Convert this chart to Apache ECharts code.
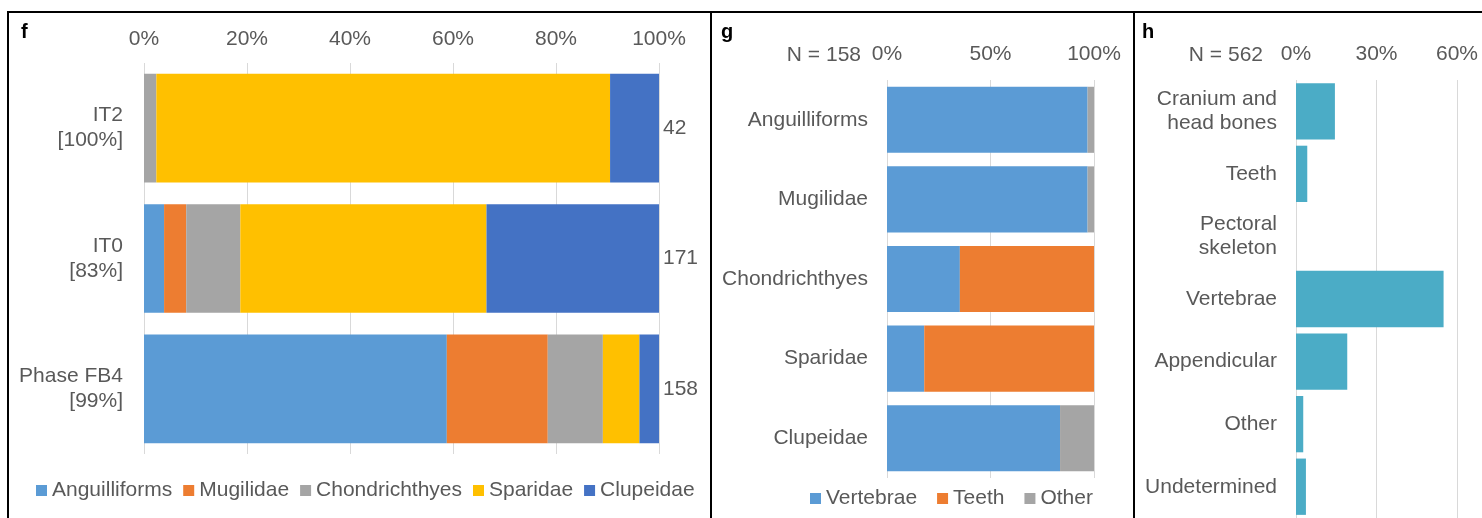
<!DOCTYPE html>
<html>
<head>
<meta charset="utf-8">
<style>
  html, body { margin: 0; padding: 0; background: #ffffff; }
  #chart { width: 1482px; height: 518px; }
</style>
<script src="https://cdn.jsdelivr.net/npm/echarts@6/dist/echarts.min.js"></script>
</head>
<body>
<div id="chart"></div>
<script>
// Panel f: taxonomic composition per context (% of identified specimens)
const fContexts = ['IT2\n[100%]', 'IT0\n[83%]', 'Phase FB4\n[99%]'];
const fCounts = ['42', '171', '158'];
const fTaxa = ['Anguilliforms', 'Mugilidae', 'Chondrichthyes', 'Sparidae', 'Clupeidae'];
const fAnguilliforms = [0, 3.9, 58.8];
const fMugilidae = [0, 4.3, 19.6];
const fChondrichthyes = [2.4, 10.5, 10.7];
const fSparidae = [88.1, 47.8, 7.1];
const fClupeidae = [9.5, 33.5, 3.8];
const fTicks = { min: 0, max: 100, interval: 20 };

// Panel g: skeletal elements per taxon, Phase FB4
const gTaxa = ['Anguilliforms', 'Mugilidae', 'Chondrichthyes', 'Sparidae', 'Clupeidae'];
const gParts = ['Vertebrae', 'Teeth', 'Other'];
const gVertebrae = [96.9, 96.9, 35.2, 18.0, 83.6];
const gTeeth = [0, 0, 64.8, 82.0, 0];
const gOther = [3.1, 3.1, 0, 0, 16.4];
const gN = 'N = 158';
const gTicks = { min: 0, max: 100, interval: 50 };

// Panel h: anatomical distribution of all remains
const hElements = ['Cranium and\nhead bones', 'Teeth', 'Pectoral\nskeleton', 'Vertebrae', 'Appendicular', 'Other', 'Undetermined'];
const hShare = [14.5, 4.2, 0, 55.0, 19.1, 2.7, 3.7];
const hN = 'N = 562';
const hTicks = { min: 0, max: 60, interval: 30 };

const TEXT = '#595959';
const GRIDLINE = '#D9D9D9';
const FONT = '"Liberation Sans", Arial, Helvetica, sans-serif';
const taxonColors = ['#5B9BD5', '#ED7D31', '#A5A5A5', '#FFC000', '#4472C4'];
const partColors = ['#5B9BD5', '#ED7D31', '#A5A5A5'];
const hColor = '#4BACC6';

function valueAxis(gridIndex, ticks, margin) {
  return {
    type: 'value', gridIndex, position: 'top',
    min: ticks.min, max: ticks.max, interval: ticks.interval,
    axisLine: { show: false }, axisTick: { show: false },
    axisLabel: { formatter: '{value}%', color: TEXT, fontSize: 21, fontFamily: FONT, margin },
    splitLine: { show: true, lineStyle: { color: GRIDLINE, width: 1 } }
  };
}
function categoryAxis(gridIndex, data, margin, lineHeight) {
  return {
    type: 'category', gridIndex, data, inverse: true,
    axisLine: { show: false }, axisTick: { show: false },
    axisLabel: { color: TEXT, fontSize: 21, fontFamily: FONT, margin, lineHeight, align: 'right' },
    splitLine: { show: false }
  };
}

const fSeriesData = [fAnguilliforms, fMugilidae, fChondrichthyes, fSparidae, fClupeidae];
const gSeriesData = [gVertebrae, gTeeth, gOther];

const series = [];
fTaxa.forEach((name, i) => series.push({
  name, type: 'bar', stack: 'f', xAxisIndex: 0, yAxisIndex: 0,
  barCategoryGap: '16.6%', data: fSeriesData[i],
  itemStyle: { color: taxonColors[i] }
}));
gParts.forEach((name, i) => series.push({
  name, type: 'bar', stack: 'g', xAxisIndex: 1, yAxisIndex: 2,
  barCategoryGap: '17%', data: gSeriesData[i],
  itemStyle: { color: partColors[i] }
}));
series.push({
  name: 'Share', type: 'bar', xAxisIndex: 2, yAxisIndex: 3,
  barCategoryGap: '10%', data: hShare,
  itemStyle: { color: hColor }
});

const option = {
  animation: false,
  backgroundColor: '#ffffff',
  textStyle: { fontFamily: FONT },
  grid: [
    { left: 144, right: 823, top: 63, height: 391, outerBoundsMode: 'none' },
    { left: 887, right: 388, top: 80, height: 398, outerBoundsMode: 'none' },
    { left: 1296, right: 25, top: 80, height: 438, outerBoundsMode: 'none' }
  ],
  xAxis: [valueAxis(0, fTicks, 13), valueAxis(1, gTicks, 15), valueAxis(2, hTicks, 15)],
  yAxis: [
    categoryAxis(0, fContexts, 21, 25),
    {
      type: 'category', gridIndex: 0, data: fCounts, inverse: true, position: 'right',
      axisLine: { show: false }, axisTick: { show: false },
      axisLabel: { color: TEXT, fontSize: 21, fontFamily: FONT, margin: 4 },
      splitLine: { show: false }
    },
    categoryAxis(1, gTaxa, 19, 24),
    categoryAxis(2, hElements, 19, 24)
  ],
  legend: [
    {
      data: fTaxa, left: 31, top: 475, itemWidth: 11, itemHeight: 11, itemGap: 11,
      icon: 'rect', textStyle: { color: TEXT, fontSize: 21, fontFamily: FONT }
    },
    {
      data: gParts, left: 805, top: 483, itemWidth: 11, itemHeight: 11, itemGap: 20,
      icon: 'rect', textStyle: { color: TEXT, fontSize: 21, fontFamily: FONT }
    }
  ],
  graphic: [
    // panel frames
    { type: 'line', shape: { x1: 7, y1: 12, x2: 1482, y2: 12 }, style: { stroke: '#000', lineWidth: 2 } },
    { type: 'line', shape: { x1: 8, y1: 12, x2: 8, y2: 518 }, style: { stroke: '#000', lineWidth: 2 } },
    { type: 'line', shape: { x1: 711, y1: 12, x2: 711, y2: 518 }, style: { stroke: '#000', lineWidth: 2 } },
    { type: 'line', shape: { x1: 1134, y1: 12, x2: 1134, y2: 518 }, style: { stroke: '#000', lineWidth: 2 } },
    // panel letters
    { type: 'text', left: 21, top: 22, style: { text: 'f', fill: '#000', font: 'bold 20px ' + FONT } },
    { type: 'text', left: 721, top: 22, style: { text: 'g', fill: '#000', font: 'bold 20px ' + FONT } },
    { type: 'text', left: 1142, top: 22, style: { text: 'h', fill: '#000', font: 'bold 20px ' + FONT } },
    // sample sizes
    { type: 'text', x: 861, y: 55, style: { text: gN, fill: TEXT, font: '21px ' + FONT, align: 'right', verticalAlign: 'middle' } },
    { type: 'text', x: 1263, y: 55, style: { text: hN, fill: TEXT, font: '21px ' + FONT, align: 'right', verticalAlign: 'middle' } }
  ],
  series
};

const chart = echarts.init(document.getElementById('chart'), null, { renderer: 'canvas' });
chart.setOption(option);
</script>
</body>
</html>
